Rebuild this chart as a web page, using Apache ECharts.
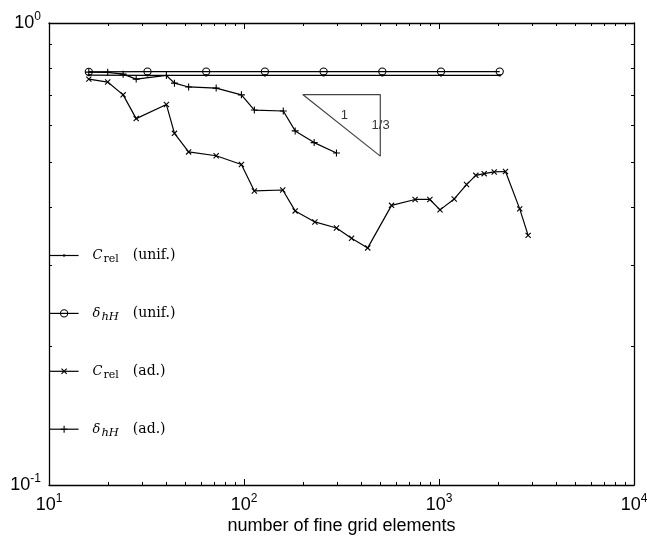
<!DOCTYPE html>
<html><head><meta charset="utf-8">
<script src="https://cdn.jsdelivr.net/npm/echarts@6/dist/echarts.min.js"></script>
<style>html,body{margin:0;padding:0;background:#fff}#c{width:647px;height:536px}</style>
</head><body><div id="c"></div>
<script>
// ---- data ----
const xUnif = [16, 32, 64, 128, 256, 512, 1024, 2048];
const crelUnif = [0.771, 0.770, 0.770, 0.770, 0.770, 0.770, 0.770, 0.770];
const deltaUnif = [0.784, 0.785, 0.785, 0.785, 0.785, 0.785, 0.785, 0.785];

const xAdCrel = [16, 20, 24, 28, 40, 44, 52, 72, 97, 113, 158, 183, 231, 298, 356, 431, 571, 754, 898, 1012, 1197, 1384, 1545, 1705, 1919, 2193, 2594, 2865];
const crelAd = [0.756, 0.745, 0.699, 0.621, 0.666, 0.577, 0.526, 0.516, 0.494, 0.433, 0.435, 0.392, 0.371, 0.360, 0.342, 0.326, 0.403, 0.415, 0.415, 0.394, 0.416, 0.447, 0.468, 0.472, 0.476, 0.477, 0.396, 0.347];

const xAdDelta = [16, 20, 24, 28, 40, 44, 52, 72, 97, 113, 159, 183, 229, 298];
const deltaAd = [0.783, 0.782, 0.775, 0.756, 0.770, 0.741, 0.727, 0.723, 0.699, 0.648, 0.645, 0.584, 0.551, 0.523];

// slope triangle (1 : 1/3)
const triX = [200, 500, 500, 200];
const triY = [0.7, 0.7, 0.515, 0.7];
const triLabels = ['1', '1/3'];
const triLabelX = [327, 502];
const triLabelY = [0.631, 0.599];

// axis
const xMin = 10, xMax = 10000, yMin = 0.1, yMax = 1;
const xMinorTicks = [];
[10, 100, 1000].forEach(d => { for (let k = 2; k <= 9; k++) xMinorTicks.push(k * d); });
const yMinorTicks = [0.2, 0.3, 0.4, 0.5, 0.6, 0.7, 0.8, 0.9];

const seriesNames = ['crelUnif', 'deltaUnif', 'crelAd', 'deltaAd'];
const legendText = {
  crelUnif: '{C|C}{rel|rel}{t|(unif.)}',
  deltaUnif: '{C|δ}{hH|hH}{t|(unif.)}',
  crelAd: '{C|C}{rel|rel}{t|(ad.)}',
  deltaAd: '{C|δ}{hH|hH}{t|(ad.)}'
};

// ---- symbols (10x10 boxes so legend and plot share the same proportions) ----
const symDot = 'path://M0,0M10,10M4.5,4.5L5.5,4.5L5.5,5.5L4.5,5.5Z';
const symCircle = 'path://M0,0M10,10M1.4,5A3.6,3.6,0,1,1,8.6,5A3.6,3.6,0,1,1,1.4,5Z';
const symX = 'path://M0,0M10,10M2.4,2.4L7.6,7.6M7.6,2.4L2.4,7.6';
const symPlus = 'path://M0,0M10,10M1.5,5L8.5,5M5,1.5L5,8.5';

const zip = (a, b) => a.map((v, i) => [v, b[i]]);

function supLabel(v) {
  const e = Math.round(Math.log10(v));
  return '{b|10}{s|' + e + '}';
}
const supRich = {
  b: {fontFamily: 'Liberation Sans', fontSize: 18, lineHeight: 24, color: '#000', verticalAlign: 'middle'},
  s: {fontFamily: 'Liberation Sans', fontSize: 12, lineHeight: 12, padding: [0, 0, 12, 0], color: '#000', verticalAlign: 'middle'}
};
const legendRich = {
  C: {fontFamily: 'DejaVu Serif', fontStyle: 'italic', fontSize: 13, lineHeight: 20, color: '#000', verticalAlign: 'middle'},
  rel: {fontFamily: 'DejaVu Serif', fontSize: 11, lineHeight: 12, padding: [8, 0, 0, 1], color: '#000', verticalAlign: 'middle'},
  hH: {fontFamily: 'DejaVu Serif', fontStyle: 'italic', fontSize: 11.5, lineHeight: 12, padding: [8, 0, 0, 1], color: '#000', verticalAlign: 'middle'},
  t: {fontFamily: 'DejaVu Serif', fontSize: 14, lineHeight: 20, padding: [0, 0, 0, 14], color: '#000', verticalAlign: 'middle'}
};

const black = '#000';
function lineSeries(name, xs, ys, sym, fill) {
  return {
    type: 'line', name: name, data: zip(xs, ys), xAxisIndex: 0, yAxisIndex: 0,
    symbol: sym, symbolSize: 10, showAllSymbol: true,
    lineStyle: {color: black, width: 1.2},
    itemStyle: {color: fill, borderColor: black, borderWidth: 1.1},
    emphasis: {disabled: true}, silent: true, z: 4
  };
}

const chart = echarts.init(document.getElementById('c'), null, {renderer: 'canvas'});
const axisLineStyle = {show: true, lineStyle: {color: black, width: 1.3}};
const option = {
  animation: false,
  backgroundColor: '#fff',
  grid: {left: 49, top: 23, right: 13, bottom: 51, containLabel: false, outerBoundsMode: 'none'},
  xAxis: [
    {type: 'log', logBase: 10, min: xMin, max: xMax, position: 'bottom',
     axisLine: axisLineStyle, splitLine: {show: false},
     axisTick: {show: true, inside: true, length: 6, lineStyle: {color: black, width: 1}},
     axisLabel: {show: true, margin: 8, formatter: supLabel, rich: supRich},
     name: 'number of fine grid elements', nameLocation: 'middle', nameGap: 32, nameMoveOverlap: false,
     nameTextStyle: {fontFamily: 'Liberation Sans', fontSize: 18, color: black}},
    {type: 'log', logBase: 10, min: xMin, max: xMax, position: 'top',
     axisLine: axisLineStyle, splitLine: {show: false},
     axisTick: {show: true, inside: true, length: 6, lineStyle: {color: black, width: 1}},
     axisLabel: {show: false}}
  ],
  yAxis: [
    {type: 'log', logBase: 10, min: yMin, max: yMax, position: 'left',
     axisLine: axisLineStyle, splitLine: {show: false},
     axisTick: {show: true, inside: true, length: 6, lineStyle: {color: black, width: 1}},
     axisLabel: {show: true, margin: 8, formatter: supLabel, rich: supRich}},
    {type: 'log', logBase: 10, min: yMin, max: yMax, position: 'right',
     axisLine: axisLineStyle, splitLine: {show: false},
     axisTick: {show: true, inside: true, length: 6, lineStyle: {color: black, width: 1}},
     axisLabel: {show: false}}
  ],
  legend: {
    orient: 'vertical', left: 49, top: 246, padding: 0, itemGap: 38.4,
    itemWidth: 29, itemHeight: 12.5, selectedMode: false,
    data: seriesNames, formatter: n => legendText[n],
    textStyle: {rich: legendRich, color: black, padding: [0, 0, 0, 9]},
    itemStyle: {borderWidth: 1.1}, lineStyle: {width: 1.2}
  },
  series: [
    lineSeries('crelUnif', xUnif, crelUnif, symDot, black),
    lineSeries('deltaUnif', xUnif, deltaUnif, symCircle, 'rgba(0,0,0,0)'),
    lineSeries('crelAd', xAdCrel, crelAd, symX, 'rgba(0,0,0,0)'),
    lineSeries('deltaAd', xAdDelta, deltaAd, symPlus, 'rgba(0,0,0,0)'),
    {type: 'line', name: 'triangle', data: zip(triX, triY), symbol: 'none',
     lineStyle: {color: '#444', width: 1.2}, silent: true, z: 3},
    {type: 'scatter', name: 'triLabels', symbolSize: 0, silent: true,
     data: triLabelX.map((x, i) => [x, triLabelY[i], triLabels[i]]),
     label: {show: true, position: 'inside', formatter: p => p.data[2],
             fontFamily: 'Liberation Sans', fontSize: 13, color: black}},
    {type: 'custom', name: 'xMinor', silent: true, clip: false, z: 2,
     data: xMinorTicks.map(v => [v, 0.5]),
     encode: {x: 0, y: 1},
     renderItem: function (params, api) {
       const cs = params.coordSys;
       const px = Math.round(api.coord([api.value(0), 0.5])[0]) + 0.5;
       const yb = cs.y + cs.height, yt = cs.y;
       return {type: 'group', children: [
         {type: 'line', shape: {x1: px, y1: yb, x2: px, y2: yb - 3}, style: {stroke: black, lineWidth: 1}},
         {type: 'line', shape: {x1: px, y1: yt, x2: px, y2: yt + 3}, style: {stroke: black, lineWidth: 1}}
       ]};
     }},
    {type: 'custom', name: 'yMinor', silent: true, clip: false, z: 2,
     data: yMinorTicks.map(v => [100, v]),
     encode: {x: 0, y: 1},
     renderItem: function (params, api) {
       const cs = params.coordSys;
       const py = Math.round(api.coord([100, api.value(1)])[1]) + 0.5;
       const xl = cs.x, xr = cs.x + cs.width;
       return {type: 'group', children: [
         {type: 'line', shape: {x1: xl, y1: py, x2: xl + 3, y2: py}, style: {stroke: black, lineWidth: 1}},
         {type: 'line', shape: {x1: xr, y1: py, x2: xr - 3, y2: py}, style: {stroke: black, lineWidth: 1}}
       ]};
     }}
  ]
};
chart.setOption(option);
</script></body></html>
